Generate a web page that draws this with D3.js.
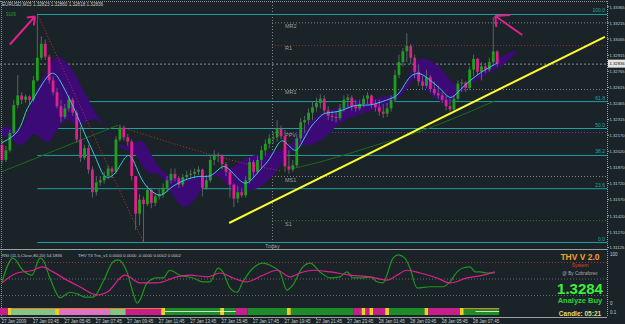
<!DOCTYPE html>
<html><head><meta charset="utf-8">
<script src="https://cdn.jsdelivr.net/npm/d3@7"></script>
<style>
html,body{margin:0;padding:0;background:#1a2327;}
svg{display:block;font-family:"Liberation Sans",Arial,sans-serif;}
</style></head><body><div id="cntr"></div>
<script>
// ---- data (EURUSD M15) ----
const firstOpen = 1.3208;
const close = [1.3194,1.3203,1.3219,1.3245,1.3254,1.3250,1.3253,1.3250,1.3268,1.3289,
  1.3302,1.3290,1.3268,1.3257,1.3244,1.3234,1.3242,1.3250,1.3238,1.3213,
  1.3196,1.3205,1.3185,1.3164,1.3173,1.3175,1.3179,1.3186,1.3183,1.3213,
  1.3224,1.3215,1.3211,1.3179,1.3144,1.3157,1.3153,1.3166,1.3154,1.3160,
  1.3162,1.3168,1.3175,1.3181,1.3177,1.3171,1.3178,1.3180,1.3181,1.3183,
  1.3185,1.3168,1.3175,1.3194,1.3199,1.3198,1.3190,1.3183,1.3171,1.3158,
  1.3164,1.3161,1.3175,1.3192,1.3183,1.3194,1.3203,1.3209,1.3214,1.3215,
  1.3223,1.3216,1.3188,1.3185,1.3189,1.3214,1.3229,1.3231,1.3238,1.3243,
  1.3247,1.3251,1.3240,1.3235,1.3234,1.3233,1.3242,1.3250,1.3252,1.3244,
  1.3242,1.3246,1.3251,1.3254,1.3246,1.3243,1.3239,1.3237,1.3242,1.3250,
  1.3273,1.3285,1.3295,1.3300,1.3289,1.3276,1.3267,1.3263,1.3271,1.3260,
  1.3256,1.3254,1.3250,1.3244,1.3241,1.3251,1.3265,1.3266,1.3261,1.3278,
  1.3288,1.3276,1.3281,1.3278,1.3285,1.3295,1.32836];
const high = [1.3213,1.3207,1.3222,1.3250,1.3273,1.3257,1.3255,1.3254,1.3272,1.3330,
  1.3309,1.3306,1.3292,1.3272,1.3261,1.3250,1.3246,1.3254,1.3252,1.3240,
  1.3225,1.3208,1.3208,1.3188,1.3179,1.3179,1.3183,1.3189,1.3188,1.3216,
  1.3227,1.3226,1.3218,1.3213,1.3177,1.3162,1.3160,1.3170,1.3168,1.3163,
  1.3168,1.3172,1.3179,1.3186,1.3186,1.3179,1.3181,1.3184,1.3185,1.3186,
  1.3188,1.3186,1.3180,1.3198,1.3203,1.3201,1.3199,1.3192,1.3185,1.3172,
  1.3170,1.3168,1.3179,1.3196,1.3194,1.3198,1.3207,1.3213,1.3218,1.3220,
  1.3231,1.3226,1.3222,1.3203,1.3194,1.3218,1.3233,1.3235,1.3242,1.3248,
  1.3252,1.3255,1.3254,1.3244,1.3240,1.3239,1.3246,1.3254,1.3255,1.3254,
  1.3250,1.3250,1.3254,1.3257,1.3255,1.3250,1.3250,1.3246,1.3247,1.3254,
  1.3278,1.3292,1.3298,1.3312,1.3302,1.3292,1.3283,1.3272,1.3278,1.3273,
  1.3267,1.3263,1.3257,1.3254,1.3251,1.3254,1.3268,1.3269,1.3267,1.3281,
  1.3292,1.3289,1.3285,1.3284,1.3289,1.3327,1.3296];
const low = [1.3191,1.3192,1.3201,1.3217,1.3242,1.3246,1.3247,1.3246,1.3248,1.3267,
  1.3287,1.3287,1.3265,1.3254,1.3242,1.3229,1.3232,1.3239,1.3235,1.3210,
  1.3192,1.3194,1.3181,1.3159,1.3161,1.3170,1.3172,1.3176,1.3177,1.3181,
  1.3211,1.3212,1.3207,1.3175,1.3129,1.3133,1.31176,1.3151,1.3149,1.3151,
  1.3157,1.3159,1.3164,1.3172,1.3174,1.3168,1.3169,1.3175,1.3176,1.3177,
  1.3180,1.3160,1.3166,1.3173,1.3189,1.3192,1.3185,1.3179,1.3159,1.3150,
  1.3154,1.3159,1.3159,1.3172,1.3178,1.3181,1.3186,1.3198,1.3205,1.3209,
  1.3211,1.3213,1.3183,1.3181,1.3183,1.3187,1.3211,1.3219,1.3227,1.3231,
  1.3239,1.3242,1.3237,1.3231,1.3230,1.3229,1.3231,1.3239,1.3242,1.3240,
  1.3239,1.3240,1.3243,1.3246,1.3242,1.3239,1.3235,1.3233,1.3234,1.3239,
  1.3248,1.3270,1.3281,1.3285,1.3283,1.3270,1.3263,1.3259,1.3261,1.3257,
  1.3254,1.3251,1.3247,1.3240,1.3239,1.3240,1.3249,1.3257,1.3257,1.3259,
  1.3272,1.3273,1.3268,1.3275,1.3276,1.3281,1.3281];

// moving average (cyan)
const maIdx = [0,4.6,5.9,7.9,10.4,12.2,13.5,14.8,17.3,19.1,21.6,24.2,25.7,27.5,29.3,31.8,33.3,35.1,36.9,39.4,
  41,42.7,46,50.4,52.9,55.5,56.7,58.8,61.3,63.1,65.6,68.2,70.2,71.5,72.8,74.6,75.8,78.4,80.2,81.7,
  84.2,86.8,89.3,91.9,94.4,98,100.5,102,103.8,106.4,108.9,111.5,113.2,114.5,116.5,119.1,121.6,124.9,126];
const maVal = [1.3210,1.3219,1.3240,1.3250,1.3266,1.3275,1.3275,1.3268,1.3250,1.3236,1.3213,1.3194,1.3178,1.3177,1.3183,1.3201,1.3196,1.3178,1.3168,1.3161,
  1.3161,1.3168,1.3175,1.3180,1.3177,1.3187,1.3189,1.3182,1.3171,1.3173,1.3185,1.3194,1.3210,1.3213,1.3208,1.3201,1.3206,1.3225,1.3231,1.3238,
  1.3238,1.3240,1.3245,1.3245,1.3245,1.3250,1.3253,1.3261,1.3273,1.3276,1.3268,1.3261,1.3253,1.3251,1.3259,1.3268,1.3275,1.3282,1.3284];

// purple band
const bandIdx = [0,3,5,8,10,12,14,16,18,20,22,24,26,30,34,36,38,40,42,44,46,48,50,52,55,58,61,64,67,70,
  73,76,79,82,85,88,91,94,97,100,103,105,107,109,111,113,115,117,119,122,125,127,130,131];
const bandTop = [1.3224,1.3226,1.3217,1.3254,1.3268,1.3282,1.3292,1.3287,1.3278,1.3264,1.3250,1.3236,1.3227,1.3203,1.3211,1.3213,1.3199,1.3186,1.3180,1.3177,1.3177,1.3177,1.3179,1.3177,1.3185,1.3185,1.3194,1.3199,1.3199,1.3203,
  1.3205,1.3222,1.3233,1.3239,1.3242,1.3246,1.3250,1.3250,1.3253,1.3254,1.3264,1.3287,1.3289,1.3287,1.3282,1.3273,1.3264,1.3261,1.3268,1.3276,1.3285,1.3290,1.3296,1.3295];
const bandBot = [1.3217,1.3213,1.3203,1.3222,1.3213,1.3208,1.3222,1.3233,1.3229,1.3224,1.3231,1.3233,1.3226,1.3202,1.3203,1.3185,1.3180,1.3183,1.3171,1.3157,1.3149,1.3152,1.3161,1.3175,1.3183,1.3166,1.3163,1.3166,1.3171,1.3183,
  1.3203,1.3208,1.3208,1.3213,1.3226,1.3233,1.3236,1.3240,1.3242,1.3248,1.3259,1.3273,1.3264,1.3254,1.3250,1.3243,1.3250,1.3257,1.3265,1.3270,1.3278,1.3280,1.3291,1.3294];

// fibonacci retracement
const fibHighIdx = 9, fibLowIdx = 36;
const fibHigh = 1.33298, fibLow = 1.31176;
const fibLevels = [0, 23.6, 38.2, 50, 61.8, 100];

// pivots
const todayIdx = 68.7;
const pivotNames = ["MR2","R1","MR1","PPV","MS1","S1"];
const pivotValues = [1.3322,1.3301,1.3260,1.3220,1.3179,1.3138];

// other drawn lines
const trendIdx = [57.8, 153.4], trendVal = [1.31353, 1.33085];
const zzIdx = [0, 29.3], zzVal = [1.3183, 1.3226];
const redIdx = [29.3, 40, 53, 62, 70.7], redVal = [1.3226, 1.3213, 1.3199, 1.3190, 1.3184];
const slowIdx = [74, 80, 88.5, 97, 104, 114, 125.5], slowVal = [1.3186, 1.3191, 1.3200, 1.3210, 1.3217, 1.3231, 1.3249];
const bid = 1.32836;

// price axis labels
const priceTicks = ["1.33365","1.33215","1.33065","1.32915","1.32765","1.32615","1.32465","1.32315",
  "1.32170","1.32020","1.31870","1.31720","1.31570","1.31420","1.31270","1.31125"];

// time axis labels (every 8 bars)
const timeLabels = ["27 Jan 2009","27 Jan 03:45","27 Jan 05:45","27 Jan 07:45","27 Jan 09:45","27 Jan 11:45",
  "27 Jan 13:45","27 Jan 15:45","27 Jan 17:45","27 Jan 19:45","27 Jan 21:45","27 Jan 23:45",
  "28 Jan 01:45","28 Jan 03:45","28 Jan 05:45","28 Jan 07:45"];

// RSI window
const rsiIdx = [0,2.8,5.3,7.6,9.7,10.4,12.2,14.8,17.3,19.8,21.1,23.2,25.7,28.2,29.5,31.8,33.3,34.4,35.1,36.9,
  39.4,41,42.7,45.3,48.6,51.1,52.9,55,56.2,58,59.8,61.3,63.9,66.4,69,70.7,72.5,74,76.3,78.4,
  80.9,83.5,86,87.8,89.3,91.9,93.6,95.4,96.9,99.5,100.8,102.5,103.8,105.6,108.9,112.2,114,115.8,117.3,119.1,
  120.4,121.6,123.4,125.4];
const rsiVal = [44,87,65,56,87,84,51,15,25,20,16,16,44,80,84,62,25,5,11,42,
  51,51,65,56,51,44,44,69,62,33,25,44,69,78,71,62,29,38,69,78,
  62,51,53,62,51,51,53,44,42,87,93,87,69,33,35,35,44,62,69,71,
  62,62,60,60];
const sigIdx = [0,3.8,7.9,10.2,13,16.5,19.8,24.2,26.7,31.3,35.1,39.4,44.5,47.8,52.2,55.5,58.8,62.3,66.4,70,
  73.3,75.8,79.1,83.5,88.5,93.6,98,100.5,103,106.4,110.7,114,118.3,122.4,125.4];
const sigVal = [42,60,65,71,62,47,35,20,25,56,42,42,53,56,53,60,51,44,56,65,
  53,60,65,62,56,53,47,56,65,60,51,42,51,56,62];
const rsiLevels = [80, 50, 20];

// signal strip
const stripSeg = [[0,2,"m"],[2,3,"y"],[3,14,"l"],[14,15,"y"],[15,28,"p"],[28,32,"l"],[32,41,"m"],[41,42,"y"],
  [42,56,"g"],[56,57,"y"],[57,60,"g"],[60,63,"m"],[63,73,"g"],[73,74,"y"],[74,90,"g"],[90,92,"m"],[92,93,"y"],
  [93,94,"m"],[94,95,"y"],[95,98,"m"],[98,99,"y"],[99,108,"g"],[108,109,"y"],[109,117,"m"],[117,118,"y"],[118,127,"g"]];
const stripColors = {m:"#c81e8c", y:"#e8d21e", l:"#86c486", p:"#de72c4", g:"#1e8c28"};
const orangeSeg = [[3,41],[118,127]];
const whiteSeg = [[42,60],[121,127]];

// ---- layout ----
const W = 625, H = 324;
const PR = 607, MT = 2, MB = 249, IT = 251, IB = 317;

const svg = d3.select("#cntr").append("svg").attr("width", W).attr("height", H);
svg.append("rect").attr("width", W).attr("height", H).attr("fill", "#1a2327");

const x = d3.scaleLinear().domain([0, 126]).range([2, 497.2]);
const y = d3.scaleLinear().domain([1.31125, 1.32465]).range([247.5, 103.5]);
const yr = d3.scaleLinear().domain([0, 100]).range([306, 251]);

svg.append("clipPath").attr("id", "mainclip").append("rect")
  .attr("x", 0).attr("y", MT).attr("width", PR).attr("height", MB - MT);
const main = svg.append("g").attr("clip-path", "url(#mainclip)");

// frame
svg.append("line").attr("x1", 0).attr("x2", PR).attr("y1", 1.5).attr("y2", 1.5)
  .attr("stroke", "#8a8f90").attr("stroke-dasharray", "1,1");
svg.append("line").attr("x1", 1.5).attr("x2", 1.5).attr("y1", 1).attr("y2", IB)
  .attr("stroke", "#8a8f90").attr("stroke-dasharray", "1,1");
svg.append("line").attr("x1", PR + 0.5).attr("x2", PR + 0.5).attr("y1", 1).attr("y2", IB)
  .attr("stroke", "#9aa0a0").attr("stroke-dasharray", "1,1");
[MB + 0.5, IB + 0.5].forEach(v => svg.append("line").attr("x1", 0).attr("x2", PR).attr("y1", v).attr("y2", v)
  .attr("stroke", "#9aa0a0"));

// fib levels
const fibY = l => fibLow + (fibHigh - fibLow) * l / 100;
main.selectAll(".fib").data(fibLevels).join("line")
  .attr("x1", x(fibHighIdx)).attr("x2", PR)
  .attr("y1", d => y(fibY(d)) + 0.5).attr("y2", d => y(fibY(d)) + 0.5)
  .attr("stroke", "#1fa0a0").attr("stroke-width", 1);
main.selectAll(".fibl").data(fibLevels).join("text")
  .attr("x", 605).attr("y", d => y(fibY(d)) - 1.5)
  .attr("text-anchor", "end").attr("fill", "#1fa8a8").attr("font-size", 5)
  .text(d => d.toFixed(1));

// pivots
const pivStroke = ["#80868a","#8a3030","#80868a","#7a30c0","#80868a","#2a7a2a"];
main.selectAll(".piv").data(pivotValues).join("line")
  .attr("x1", x(todayIdx)).attr("x2", PR)
  .attr("y1", d => y(d) + 0.5).attr("y2", d => y(d) + 0.5)
  .attr("stroke", (d, i) => pivStroke[i]).attr("stroke-dasharray", "1,2");
main.selectAll(".pivl").data(pivotValues).join("text")
  .attr("x", x(todayIdx) + 13).attr("y", d => y(d) + 5.5)
  .attr("fill", "#9a9fa0").attr("font-size", 5.5)
  .text((d, i) => pivotNames[i]);

// bid line
main.append("line").attr("x1", 0).attr("x2", PR).attr("y1", y(bid) + 0.5).attr("y2", y(bid) + 0.5)
  .attr("stroke", "#8a8f90").attr("stroke-dasharray", "2,2");

// today vertical
main.append("line").attr("x1", x(todayIdx) + 0.5).attr("x2", x(todayIdx) + 0.5).attr("y1", MT).attr("y2", MB)
  .attr("stroke", "#80868a").attr("stroke-dasharray", "1,2");
main.append("text").attr("x", x(todayIdx) - 7).attr("y", 248).attr("fill", "#9a9fa0")
  .attr("font-size", 5.5).text("Today");

// purple band
const band = bandIdx.map((d, i) => ({i: d, t: bandTop[i], b: bandBot[i]}));
main.append("path").datum(band)
  .attr("d", d3.area().x(d => x(d.i)).y0(d => y(d.b)).y1(d => y(d.t)).curve(d3.curveBasis))
  .attr("fill", "#3c0a76");

// long lines
const ln = d3.line().x(d => x(d[0])).y(d => y(d[1]));
main.append("path").attr("d", ln(zzIdx.map((d, i) => [d, zzVal[i]])))
  .attr("fill", "none").attr("stroke", "#1e6a1e").attr("stroke-width", 1);
main.append("path").attr("d", ln.curve(d3.curveBasis)(slowIdx.map((d, i) => [d, slowVal[i]])))
  .attr("fill", "none").attr("stroke", "#1e6a1e").attr("stroke-width", 1);
main.append("path").attr("d", ln.curve(d3.curveBasis)(redIdx.map((d, i) => [d, redVal[i]])))
  .attr("fill", "none").attr("stroke", "#c03030").attr("stroke-width", 1).attr("stroke-dasharray", "1,2");
main.append("line")
  .attr("x1", x(fibHighIdx)).attr("y1", y(fibHigh)).attr("x2", x(fibLowIdx)).attr("y2", y(fibLow))
  .attr("stroke", "#c03030").attr("stroke-dasharray", "1,2");

// candles
const bars = close.map((c, i) => ({i, o: i ? close[i - 1] : firstOpen, c, h: high[i], l: low[i]}));
const cg = main.append("g");
cg.selectAll(".wick").data(bars).join("line")
  .attr("x1", d => x(d.i)).attr("x2", d => x(d.i))
  .attr("y1", d => y(d.h)).attr("y2", d => y(d.l))
  .attr("stroke", "#6a7474").attr("stroke-width", 0.8);
cg.selectAll(".body").data(bars).join("rect")
  .attr("x", d => x(d.i) - 1.4).attr("width", 2.8)
  .attr("y", d => y(Math.max(d.o, d.c)))
  .attr("height", d => Math.max(1, Math.abs(y(d.o) - y(d.c))))
  .attr("fill", d => d.c >= d.o ? "#1ea01e" : "#e0208c");

// MA
main.append("path").attr("d", d3.line().x(d => x(d[0])).y(d => y(d[1])).curve(d3.curveBasis)(maIdx.map((d, i) => [d, maVal[i]])))
  .attr("fill", "none").attr("stroke", "#3ec8dc").attr("stroke-width", 1);

// trendline
main.append("line")
  .attr("x1", x(trendIdx[0])).attr("y1", y(trendVal[0]))
  .attr("x2", x(trendIdx[1])).attr("y2", y(trendVal[1]))
  .attr("stroke", "#ffff30").attr("stroke-width", 2);

// arrows
function arrow(tx, ty, dx, dy, barbs) {
  const g = main.append("g").attr("stroke", "#e0208c").attr("stroke-width", 2).attr("fill", "none");
  g.append("line").attr("x1", tx + dx).attr("y1", ty + dy).attr("x2", tx).attr("y2", ty);
  barbs.forEach(b => g.append("line").attr("x1", tx).attr("y1", ty).attr("x2", tx + b[0]).attr("y2", ty + b[1]));
}
arrow(x(fibHighIdx) - 2.5, y(fibHigh) + 2.5, -25, 28, [[-8, 1], [-1, 9]]);
arrow(x(125) + 2, y(high[125]) - 1, 27, 19, [[15, -1], [1, 11]]);

// title
svg.append("text").attr("x", 2).attr("y", 6).attr("fill", "#c8cccc").attr("font-size", 4.6)
  .text("EURUSD,M15  1.32823 1.32860 1.32818 1.32836");
svg.append("text").attr("x", 6).attr("y", 15.5).attr("fill", "#2a9a2a").attr("font-size", 4.5).text("9106");

// price axis
const ptick = svg.append("g");
priceTicks.forEach(t => {
  const yy = y(+t);
  ptick.append("line").attr("x1", PR).attr("x2", PR + 2).attr("y1", yy).attr("y2", yy).attr("stroke", "#9aa0a0");
  ptick.append("text").attr("x", PR + 2.5).attr("y", yy + 1.8).attr("fill", "#c8cccc").attr("font-size", 4.2).text(t);
});
svg.append("rect").attr("x", PR + 1).attr("y", y(bid) - 4).attr("width", 17).attr("height", 8).attr("fill", "#e4e4e4");
svg.append("text").attr("x", PR + 2.5).attr("y", y(bid) + 1.8).attr("fill", "#111").attr("font-size", 4.2).text(bid.toFixed(5));

// ---- RSI window ----
const ind = svg.append("g");
ind.selectAll(".lvl").data(rsiLevels).join("line")
  .attr("x1", 0).attr("x2", PR).attr("y1", d => yr(d) + 0.5).attr("y2", d => yr(d) + 0.5)
  .attr("stroke", d => d === 80 ? "#a03040" : "#60686a").attr("stroke-dasharray", "1,2");
const rl = d3.line().x(d => x(d[0])).y(d => yr(d[1])).curve(d3.curveMonotoneX);
ind.append("path").attr("d", rl(rsiIdx.map((d, i) => [d, rsiVal[i]])))
  .attr("fill", "none").attr("stroke", "#1e961e").attr("stroke-width", 1.2);
ind.append("path").attr("d", rl(sigIdx.map((d, i) => [d, sigVal[i]])))
  .attr("fill", "none").attr("stroke", "#e0208c").attr("stroke-width", 1.2);
ind.append("text").attr("x", 2).attr("y", 257).attr("fill", "#c8cccc").attr("font-size", 4.3)
  .text("RSI (11,5,Close,80,20) 54.5836");
ind.append("text").attr("x", 78).attr("y", 257).attr("fill", "#c8cccc").attr("font-size", 4.3)
  .text("THV T3 Trix_v1  0.0000 0.0000 -0.0000 0.0002 0.0002");
ind.append("text").attr("x", PR + 3).attr("y", 256).attr("fill", "#c8cccc").attr("font-size", 4.5).text("100");
ind.append("text").attr("x", PR + 3).attr("y", 305).attr("fill", "#c8cccc").attr("font-size", 4.5).text("0");
ind.append("text").attr("x", PR + 3).attr("y", 314).attr("fill", "#c8cccc").attr("font-size", 4.5).text("0.1");

// strip
const half = (x(1) - x(0)) / 2;
ind.selectAll(".strip").data(stripSeg).join("rect")
  .attr("x", d => x(d[0]) - half).attr("width", d => x(d[1]) - x(d[0]))
  .attr("y", 308).attr("height", 7).attr("fill", d => stripColors[d[2]]);
ind.selectAll(".or").data(orangeSeg).join("rect")
  .attr("x", d => x(d[0]) - half).attr("width", d => x(d[1]) - x(d[0]))
  .attr("y", 308).attr("height", 1).attr("fill", "#e8801e");
ind.selectAll(".wh").data(whiteSeg).join("rect")
  .attr("x", d => x(d[0]) - half).attr("width", d => x(d[1]) - x(d[0]))
  .attr("y", 311).attr("height", 0.8).attr("fill", "#f4f4f4");

// info panel
const info = [
  ["THV V 2.0", 259.5, 8.5, "#f0a028", "bold"],
  ["System", 267, 5, "#e04a20", "normal"],
  ["@ By Cobraforex", 275, 4.6, "#a8acac", "normal"],
  ["1.3284", 294, 15, "#3cf03c", "bold"],
  ["Analyze Buy", 303, 7.5, "#30d030", "bold"],
  ["Candle:  05:21", 316, 6.5, "#e0dc80", "bold"]
];
svg.selectAll(".info").data(info).join("text")
  .attr("x", 580).attr("y", d => d[1]).attr("text-anchor", "middle")
  .attr("font-size", d => d[2]).attr("fill", d => d[3]).attr("font-weight", d => d[4])
  .text(d => d[0]);

// time axis
svg.selectAll(".tt").data(timeLabels).join("line")
  .attr("x1", (d, i) => x(i * 8)).attr("x2", (d, i) => x(i * 8))
  .attr("y1", IB).attr("y2", IB + 2).attr("stroke", "#9aa0a0");
svg.selectAll(".tl").data(timeLabels).join("text")
  .attr("x", (d, i) => x(i * 8) - 0.5).attr("y", 322.5)
  .attr("fill", "#c8cccc").attr("font-size", 4.5).text(d => d);
</script></body></html>
